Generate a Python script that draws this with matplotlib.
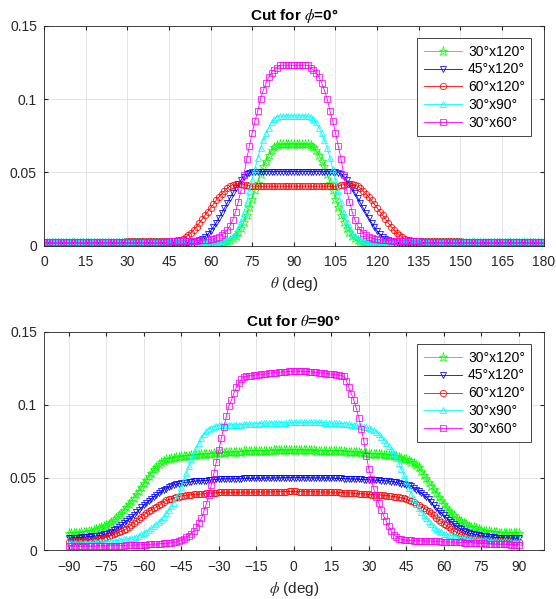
import numpy as np
import matplotlib
matplotlib.use("Agg")
import matplotlib.pyplot as plt

# values are in units of 1e-4
theta = np.arange(0, 181)
phi = np.arange(-90, 91)

labels = ["30°x120°", "45°x120°", "60°x120°", "30°x90°", "30°x60°"]

# cut for phi = 0, theta 0..180
g_30x120_phi0 = [
    15, 15, 15, 15, 15, 15, 15, 15, 15, 15, 15, 15, 15, 15, 15, 15, 15, 15, 15, 15,
    15, 15, 15, 15, 15, 15, 15, 15, 15, 15, 15, 15, 15, 15, 15, 15, 15, 15, 15, 15,
    15, 15, 15, 15, 15, 15, 15, 15, 15, 15, 15, 15, 15, 15, 15, 15, 15, 15, 15, 15,
    15, 15, 15, 15, 20, 25, 30, 40, 50, 65, 90, 120, 160, 210, 260, 320, 380, 430, 490, 540,
    580, 620, 650, 670, 685, 690, 690, 690, 690, 690, 690, 690, 690, 690, 690, 690, 685, 670, 650, 620,
    580, 540, 490, 430, 380, 320, 260, 210, 160, 120, 90, 65, 50, 40, 30, 25, 20, 15, 15, 15,
    15, 15, 15, 15, 15, 15, 15, 15, 15, 15, 15, 15, 15, 15, 15, 15, 15, 15, 15, 15,
    15, 15, 15, 15, 15, 15, 15, 15, 15, 15, 15, 15, 15, 15, 15, 15, 15, 15, 15, 15,
    15, 15, 15, 15, 15, 15, 15, 15, 15, 15, 15, 15, 15, 15, 15, 15, 15, 15, 15, 15,
    15,
]
g_45x120_phi0 = [
    20, 20, 20, 20, 20, 20, 20, 20, 20, 20, 20, 20, 20, 20, 20, 20, 20, 20, 20, 20,
    20, 20, 20, 20, 20, 20, 20, 20, 20, 20, 20, 20, 20, 20, 20, 20, 20, 20, 20, 20,
    20, 20, 20, 20, 20, 20, 20, 20, 20, 20, 20, 20, 20, 23, 26, 30, 36, 46, 60, 78,
    100, 126, 155, 187, 220, 255, 290, 325, 358, 390, 420, 448, 470, 488, 498, 503, 505, 505, 505, 505,
    505, 505, 505, 505, 505, 505, 505, 505, 505, 505, 505, 505, 505, 505, 505, 505, 505, 505, 505, 505,
    505, 505, 505, 505, 505, 503, 498, 488, 470, 448, 420, 390, 358, 325, 290, 255, 220, 187, 155, 126,
    100, 78, 60, 46, 36, 30, 26, 23, 20, 20, 20, 20, 20, 20, 20, 20, 20, 20, 20, 20,
    20, 20, 20, 20, 20, 20, 20, 20, 20, 20, 20, 20, 20, 20, 20, 20, 20, 20, 20, 20,
    20, 20, 20, 20, 20, 20, 20, 20, 20, 20, 20, 20, 20, 20, 20, 20, 20, 20, 20, 20,
    20,
]
g_60x120_phi0 = [
    25, 25, 25, 25, 25, 25, 25, 25, 25, 25, 25, 25, 25, 25, 25, 25, 25, 25, 25, 25,
    25, 25, 25, 25, 25, 25, 25, 25, 25, 25, 28, 28, 28, 28, 28, 28, 28, 28, 28, 28,
    28, 28, 28, 28, 28, 28, 30, 32, 35, 40, 47, 58, 72, 88, 108, 130, 155, 180, 206, 232,
    258, 283, 308, 330, 352, 372, 390, 405, 415, 421, 422, 420, 416, 412, 408, 405, 405, 405, 405, 405,
    405, 405, 405, 405, 405, 405, 405, 405, 405, 405, 405, 405, 405, 405, 405, 405, 405, 405, 405, 405,
    405, 405, 405, 405, 405, 405, 408, 412, 416, 420, 422, 421, 415, 405, 390, 372, 352, 330, 308, 283,
    258, 232, 206, 180, 155, 130, 108, 88, 72, 58, 47, 40, 35, 32, 30, 28, 28, 28, 28, 28,
    28, 28, 28, 28, 28, 28, 28, 28, 28, 28, 28, 25, 25, 25, 25, 25, 25, 25, 25, 25,
    25, 25, 25, 25, 25, 25, 25, 25, 25, 25, 25, 25, 25, 25, 25, 25, 25, 25, 25, 25,
    25,
]
g_30x90_phi0 = [
    28, 28, 28, 28, 28, 28, 28, 28, 28, 28, 28, 28, 28, 28, 28, 28, 28, 28, 28, 28,
    28, 28, 28, 28, 28, 28, 28, 28, 28, 28, 28, 28, 28, 28, 28, 28, 28, 28, 28, 28,
    28, 28, 28, 28, 28, 28, 28, 28, 28, 28, 30, 30, 30, 30, 30, 30, 30, 30, 30, 30,
    30, 30, 30, 30, 34, 37, 42, 50, 65, 88, 120, 165, 225, 295, 370, 450, 525, 600, 665, 720,
    765, 805, 840, 865, 880, 885, 885, 885, 885, 885, 885, 885, 885, 885, 885, 885, 880, 865, 840, 805,
    765, 720, 665, 600, 525, 450, 370, 295, 225, 165, 120, 88, 65, 50, 42, 37, 34, 30, 30, 30,
    30, 30, 30, 30, 30, 30, 30, 30, 30, 30, 30, 28, 28, 28, 28, 28, 28, 28, 28, 28,
    28, 28, 28, 28, 28, 28, 28, 28, 28, 28, 28, 28, 28, 28, 28, 28, 28, 28, 28, 28,
    28, 28, 28, 28, 28, 28, 28, 28, 28, 28, 28, 28, 28, 28, 28, 28, 28, 28, 28, 28,
    28,
]
g_30x60_phi0 = [
    22, 22, 22, 22, 22, 22, 22, 22, 22, 22, 22, 22, 22, 22, 22, 22, 22, 22, 22, 22,
    22, 22, 22, 22, 22, 22, 22, 22, 22, 22, 22, 22, 22, 22, 22, 22, 22, 22, 22, 22,
    22, 22, 22, 22, 22, 30, 30, 30, 30, 30, 32, 32, 32, 32, 32, 34, 35, 36, 38, 40,
    42, 46, 52, 60, 70, 85, 105, 135, 175, 230, 300, 380, 480, 590, 680, 770, 850, 920, 1000, 1060,
    1110, 1150, 1180, 1200, 1215, 1230, 1230, 1230, 1230, 1230, 1230, 1230, 1230, 1230, 1230, 1230, 1215, 1200, 1180, 1150,
    1110, 1060, 1000, 920, 850, 770, 680, 590, 480, 380, 300, 230, 175, 135, 105, 85, 70, 60, 52, 46,
    42, 40, 38, 36, 35, 34, 32, 32, 32, 32, 32, 30, 30, 30, 30, 30, 22, 22, 22, 22,
    22, 22, 22, 22, 22, 22, 22, 22, 22, 22, 22, 22, 22, 22, 22, 22, 22, 22, 22, 22,
    22, 22, 22, 22, 22, 22, 22, 22, 22, 22, 22, 22, 22, 22, 22, 22, 22, 22, 22, 22,
    22,
]

# cut for theta = 90, phi -90..90
g_30x120_th90 = [
    120, 120, 121, 122, 123, 125, 127, 130, 133, 136,
    140, 146, 153, 160, 167, 175, 185, 197, 210, 225,
    240, 260, 280, 300, 320, 340, 360, 385, 410, 435,
    460, 485, 510, 535, 560, 575, 590, 605, 617, 625,
    630, 633, 636, 639, 642, 645, 647, 649, 651, 653,
    655, 656, 658, 659, 661, 662, 664, 665, 667, 668,
    670, 671, 672, 673, 674, 675, 676, 677, 678, 679,
    680, 680, 681, 681, 682, 682, 683, 683, 684, 684,
    685, 685, 686, 686, 686, 687, 687, 687, 688, 688,
    688, 688, 688, 687, 687, 687, 686, 686, 686, 685,
    685, 685, 684, 684, 683, 683, 682, 682, 681, 681,
    680, 679, 678, 677, 676, 675, 673, 671, 669, 667,
    665, 664, 663, 662, 661, 660, 658, 656, 654, 652,
    650, 646, 641, 635, 630, 625, 618, 610, 600, 585,
    570, 545, 520, 495, 470, 445, 420, 395, 370, 345,
    320, 295, 270, 255, 240, 225, 210, 200, 190, 180,
    170, 164, 158, 152, 146, 140, 137, 134, 131, 128,
    125, 124, 123, 122, 121, 120, 120, 120, 120, 120,
    120,
]
g_45x120_th90 = [
    85, 86, 87, 88, 89, 90, 91, 93, 95, 96,
    98, 100, 102, 105, 110, 115, 120, 130, 140, 150,
    160, 175, 190, 202, 215, 230, 245, 262, 280, 295,
    310, 325, 340, 355, 370, 383, 395, 405, 415, 425,
    435, 443, 450, 454, 457, 460, 463, 466, 469, 472,
    475, 476, 477, 478, 479, 480, 482, 484, 486, 488,
    490, 490, 491, 491, 492, 492, 492, 493, 493, 493,
    494, 494, 494, 494, 495, 495, 495, 496, 496, 497,
    497, 497, 498, 498, 498, 499, 499, 499, 500, 500,
    500, 500, 500, 500, 499, 499, 499, 498, 498, 498,
    498, 498, 497, 497, 497, 497, 496, 495, 494, 494,
    493, 492, 491, 490, 490, 489, 488, 487, 486, 486,
    485, 484, 483, 482, 481, 480, 479, 477, 475, 473,
    470, 467, 463, 459, 455, 450, 446, 440, 430, 418,
    405, 393, 380, 365, 350, 330, 310, 290, 270, 255,
    240, 225, 210, 195, 180, 167, 155, 145, 135, 127,
    120, 116, 112, 108, 104, 100, 98, 96, 94, 92,
    90, 89, 88, 87, 86, 85, 85, 85, 85, 85,
    85,
]
g_60x120_th90 = [
    60, 61, 62, 63, 64, 65, 66, 68, 70, 71,
    73, 75, 78, 82, 86, 90, 96, 103, 110, 117,
    125, 132, 140, 150, 160, 175, 190, 202, 215, 230,
    245, 258, 270, 280, 290, 300, 310, 322, 335, 343,
    350, 355, 360, 365, 370, 375, 377, 379, 381, 383,
    385, 386, 387, 388, 390, 391, 392, 394, 395, 397,
    398, 398, 398, 399, 399, 399, 399, 399, 400, 400,
    400, 400, 400, 400, 400, 400, 401, 401, 401, 402,
    402, 402, 403, 403, 403, 404, 404, 404, 405, 405,
    405, 405, 404, 404, 404, 403, 403, 403, 402, 402,
    402, 401, 401, 401, 400, 400, 400, 399, 398, 397,
    396, 395, 394, 393, 392, 391, 390, 389, 388, 387,
    385, 384, 383, 382, 381, 380, 379, 377, 375, 373,
    370, 367, 364, 361, 358, 352, 345, 338, 330, 321,
    310, 300, 290, 280, 268, 255, 240, 225, 210, 198,
    185, 172, 160, 148, 137, 126, 117, 108, 100, 94,
    88, 84, 81, 78, 76, 74, 72, 71, 70, 69,
    68, 67, 66, 65, 64, 63, 62, 61, 60, 60,
    60,
]
g_30x90_th90 = [
    50, 50, 51, 51, 52, 52, 53, 53, 54, 54,
    55, 56, 57, 58, 59, 60, 62, 64, 66, 68,
    70, 73, 76, 79, 82, 85, 89, 93, 100, 110,
    120, 130, 140, 152, 165, 180, 195, 212, 230, 255,
    280, 302, 325, 357, 390, 437, 485, 532, 580, 625,
    670, 705, 740, 770, 800, 818, 835, 843, 850, 855,
    860, 860, 861, 861, 862, 862, 863, 863, 864, 864,
    865, 866, 867, 868, 869, 870, 871, 872, 873, 874,
    875, 875, 876, 876, 877, 877, 878, 878, 879, 879,
    880, 880, 880, 880, 880, 880, 880, 880, 880, 880,
    880, 879, 878, 877, 876, 875, 874, 873, 872, 871,
    870, 868, 866, 864, 862, 860, 857, 854, 850, 845,
    840, 835, 830, 815, 800, 780, 760, 738, 715, 693,
    670, 635, 600, 560, 520, 475, 430, 390, 350, 320,
    290, 265, 240, 220, 200, 180, 160, 147, 135, 125,
    115, 111, 107, 103, 99, 95, 92, 90, 87, 85,
    82, 80, 78, 76, 75, 73, 72, 70, 69, 67,
    66, 65, 64, 64, 63, 62, 62, 61, 61, 60,
    60,
]
g_30x60_th90 = [
    30, 30, 30, 30, 30, 30, 30, 30, 30, 30,
    30, 30, 31, 31, 31, 31, 32, 32, 32, 33,
    33, 34, 34, 35, 35, 36, 37, 38, 38, 39,
    40, 41, 42, 43, 44, 45, 46, 47, 48, 49,
    50, 53, 56, 60, 65, 70, 80, 90, 102, 115,
    135, 160, 190, 220, 270, 320, 380, 450, 530, 610,
    690, 770, 850, 920, 990, 1030, 1080, 1120, 1150, 1175,
    1190, 1195, 1198, 1200, 1202, 1205, 1207, 1208, 1210, 1212,
    1215, 1217, 1219, 1221, 1223, 1225, 1226, 1227, 1228, 1229,
    1230, 1230, 1230, 1229, 1229, 1228, 1227, 1225, 1223, 1222,
    1220, 1218, 1216, 1214, 1212, 1210, 1208, 1206, 1204, 1200,
    1195, 1165, 1120, 1075, 1030, 975, 910, 835, 750, 650,
    560, 490, 420, 370, 325, 280, 235, 200, 165, 135,
    108, 92, 82, 76, 73, 71, 70, 69, 68, 67,
    66, 66, 65, 65, 64, 64, 63, 63, 62, 61,
    60, 59, 59, 58, 57, 56, 56, 55, 54, 54,
    53, 52, 51, 51, 50, 49, 48, 47, 46, 46,
    45, 45, 44, 44, 43, 42, 42, 41, 41, 40,
    40,
]

colors = ["#00ff00", "#0000ff", "#ff0000", "#00ffff", "#ff00ff"]
markers = ["*", "v", "o", "^", "s"]
msizes = [6.5, 5.0, 4.6, 5.0, 4.6]

plt.rcParams["font.family"] = ["Liberation Sans", "DejaVu Sans"]
plt.rcParams["mathtext.fontset"] = "stix"
plt.rcParams["font.size"] = 10

fig = plt.figure(figsize=(5.56, 5.99), dpi=100)
ax1 = fig.add_axes([0.079, 0.590, 0.899, 0.367])
ax2 = fig.add_axes([0.079, 0.081, 0.899, 0.365])


def draw_cut(ax, x, curves, xticks, xlim, xlabel, title):
    for vals, c, m, ms, lab in zip(curves, colors, markers, msizes, labels):
        ax.plot(x, np.array(vals) * 1e-4, color=c, lw=0.6, marker=m, ms=ms,
                mfc="none", mec=c, mew=0.55, label=lab)
    ax.set_xlim(xlim)
    ax.set_ylim(0, 0.15)
    ax.set_xticks(xticks)
    ax.set_yticks([0, 0.05, 0.1, 0.15])
    ax.set_yticklabels(["0", "0.05", "0.1", "0.15"])
    ax.grid(True, color="#e0e0e0", lw=0.6)
    ax.set_axisbelow(True)
    ax.tick_params(direction="in", top=True, right=True, length=3,
                   colors="#262626", labelsize=10)
    ax.tick_params(axis="x", pad=7)
    ax.tick_params(axis="y", pad=5)
    for sp in ax.spines.values():
        sp.set_color("#262626")
        sp.set_linewidth(0.6)
    ax.set_xlabel(xlabel, fontsize=11, color="#262626", labelpad=4)
    ax.set_title(title, fontsize=11, fontweight="bold", pad=4)
    leg = ax.legend(loc="upper right", fontsize=10, handlelength=2.8,
                    handletextpad=0.4, numpoints=1, fancybox=False,
                    edgecolor="#262626", framealpha=1, borderaxespad=0.9,
                    labelspacing=0.28, borderpad=0.45)
    leg.get_frame().set_linewidth(0.6)


draw_cut(ax1, theta,
         [g_30x120_phi0, g_45x120_phi0, g_60x120_phi0, g_30x90_phi0, g_30x60_phi0],
         np.arange(0, 181, 15), (0, 180), r"$\theta$ (deg)",
         r"Cut for $\phi$=0°")
draw_cut(ax2, phi,
         [g_30x120_th90, g_45x120_th90, g_60x120_th90, g_30x90_th90, g_30x60_th90],
         np.arange(-90, 91, 15), (-100, 100), r"$\phi$ (deg)",
         r"Cut for $\theta$=90°")

fig.savefig("out.png", dpi=100)
